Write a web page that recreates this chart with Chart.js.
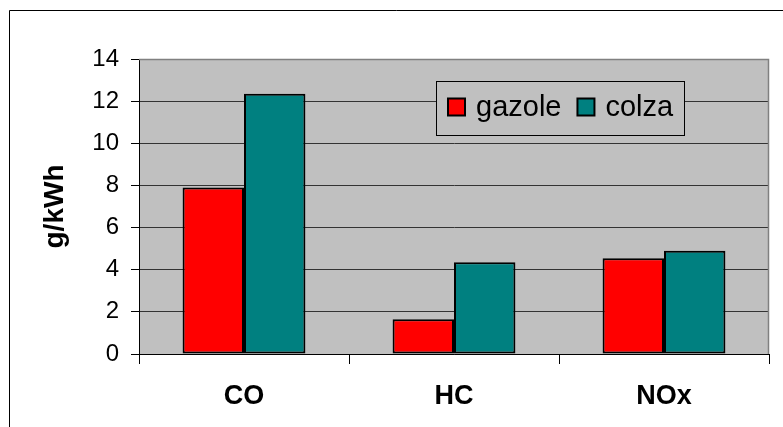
<!DOCTYPE html>
<html>
<head>
<meta charset="utf-8">
<script src="https://cdn.jsdelivr.net/npm/chart.js@4.4.1/dist/chart.umd.min.js"></script>
<style>
  html, body { margin: 0; padding: 0; background: #ffffff; }
  #wrap { position: relative; width: 783px; height: 427px; }
</style>
</head>
<body>
<div id="wrap"><canvas id="c" width="783" height="427"></canvas></div>
<script>
const categories = ['CO', 'HC', 'NOx'];
const gazole = [7.9, 1.65, 4.55];
const colza = [12.35, 4.35, 4.9];
const seriesNames = ['gazole', 'colza'];
const yTicksMin = 0, yTicksMax = 14, yTickStep = 2;
const yTitle = 'g/kWh';

const FONT = '"Liberation Sans", Arial, sans-serif';

const frameAndBackground = {
  id: 'frameAndBackground',
  beforeDraw(chart) {
    const { ctx, chartArea: a } = chart;
    ctx.save();
    ctx.fillStyle = '#ffffff';
    ctx.fillRect(0, 0, chart.width, chart.height);
    ctx.strokeStyle = '#000000';
    ctx.lineWidth = 1;
    ctx.beginPath();
    ctx.moveTo(9.5, chart.height + 5);
    ctx.lineTo(9.5, 10.5);
    ctx.lineTo(chart.width + 5, 10.5);
    ctx.stroke();
    ctx.fillStyle = '#C0C0C0';
    ctx.fillRect(a.left, a.top, a.right - a.left, a.bottom - a.top);
    ctx.restore();
  },
  afterDatasetsDraw(chart) {
    const { ctx, chartArea: a } = chart;
    ctx.save();
    ctx.strokeStyle = '#808080';
    ctx.lineWidth = 1.5;
    ctx.beginPath();
    ctx.moveTo(a.left, a.top + 0.5);
    ctx.lineTo(a.right - 0.5, a.top + 0.5);
    ctx.lineTo(a.right - 0.5, a.bottom);
    ctx.stroke();
    ctx.restore();
  }
};

const insideLegend = {
  id: 'insideLegend',
  afterDatasetsDraw(chart) {
    const { ctx } = chart;
    const box = { x: 436, y: 81, w: 248, h: 54 };
    ctx.save();
    ctx.fillStyle = '#C0C0C0';
    ctx.fillRect(box.x, box.y, box.w, box.h);
    ctx.strokeStyle = '#000000';
    ctx.lineWidth = 1;
    ctx.strokeRect(box.x + 0.5, box.y + 0.5, box.w, box.h);
    ctx.font = '29px ' + FONT;
    ctx.textBaseline = 'middle';
    ctx.textAlign = 'left';
    let x = box.x + 12;
    const cy = box.y + 26;
    chart.data.datasets.forEach((ds) => {
      ctx.fillStyle = ds.backgroundColor;
      ctx.fillRect(x, cy - 8.5, 17, 17);
      ctx.strokeStyle = '#000000';
      ctx.lineWidth = 2;
      ctx.strokeRect(x, cy - 8.5, 17, 17);
      ctx.fillStyle = '#000000';
      ctx.fillText(ds.label, x + 28, cy + 1);
      x += 28 + ctx.measureText(ds.label).width + 16;
    });
    ctx.restore();
  }
};

Chart.defaults.font.family = FONT;

new Chart(document.getElementById('c'), {
  type: 'bar',
  data: {
    labels: categories,
    datasets: [
      { label: seriesNames[0], data: gazole, backgroundColor: '#FF0000', borderColor: '#000000', borderWidth: 2, borderSkipped: false },
      { label: seriesNames[1], data: colza, backgroundColor: '#008080', borderColor: '#000000', borderWidth: 2, borderSkipped: false }
    ]
  },
  options: {
    responsive: false,
    animation: false,
    devicePixelRatio: 1,
    layout: { padding: { left: 0, top: 59, right: 14, bottom: 0 } },
    datasets: { bar: { categoryPercentage: 0.585, barPercentage: 1.0 } },
    plugins: {
      legend: { display: false },
      tooltip: { enabled: false }
    },
    scales: {
      x: {
        offset: true,
        grid: {
          offset: true,
          drawOnChartArea: false,
          drawTicks: true,
          tickLength: 10,
          color: '#000000'
        },
        border: { display: true, color: '#000000', width: 1 },
        ticks: {
          color: '#000000',
          padding: 16,
          font: { size: 27, weight: 'bold', family: FONT }
        },
        afterFit(scale) { scale.height = 73; }
      },
      y: {
        min: yTicksMin,
        max: yTicksMax,
        ticks: {
          stepSize: yTickStep,
          color: '#000000',
          padding: 12,
          font: { size: 24, family: FONT }
        },
        grid: {
          tickLength: 8,
          color: (c) => (c.tick && c.tick.value === yTicksMax ? '#808080' : '#333333'),
          tickColor: '#000000'
        },
        border: { display: true, color: '#000000', width: 1 },
        title: {
          display: true,
          text: yTitle,
          color: '#000000',
          padding: { top: 38, bottom: 0 },
          font: { size: 28, weight: 'bold', family: FONT }
        },
        afterFit(scale) { scale.width = 139; }
      }
    }
  },
  plugins: [frameAndBackground, insideLegend]
});
</script>
</body>
</html>
